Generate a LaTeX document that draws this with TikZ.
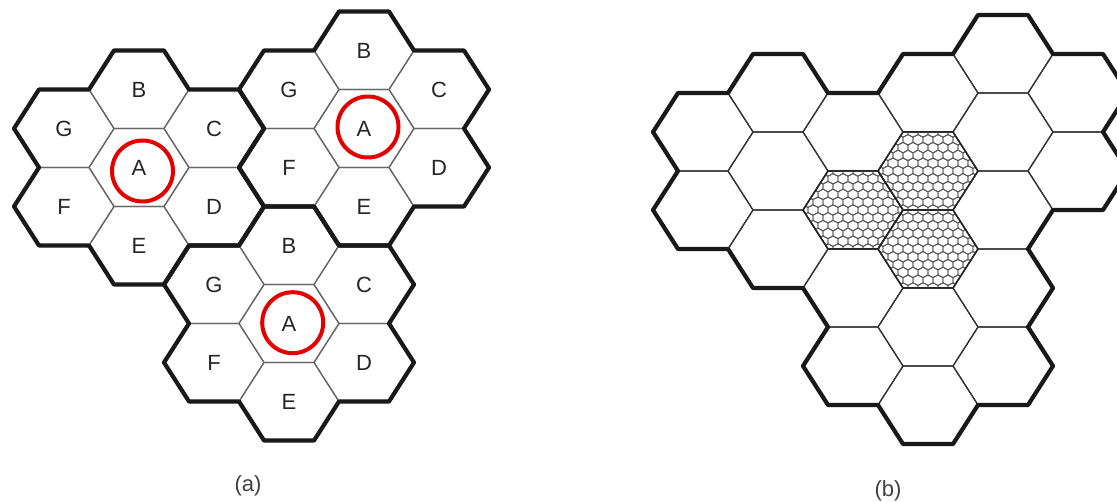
\documentclass[tikz,border=0pt]{standalone}
\usepackage{fontspec}
\setmainfont{Liberation Sans}
\begin{document}
\begin{tikzpicture}[x=1pt,y=-1pt,
  thinA/.style={line width=1.2pt, draw=black!60},
  thinB/.style={line width=1.2pt, draw=black!80},
  thickline/.style={line width=4.2pt, draw=black!90, line join=round},
  micro/.style={line width=0.9pt, draw=black!65},
  lbl/.style={font=\fontsize{22}{26}\selectfont, text=black!85, inner sep=0pt},
  ring/.style={circle, draw=red!90!black, line width=4pt, minimum size=61pt, inner sep=0pt},
  captxt/.style={font=\fontsize{22}{26}\selectfont, text=black!75, inner sep=0pt}]
\useasboundingbox (0,0) rectangle (1117,502);
\fill[white] (0,0) rectangle (1117,502);
\clip (0,0) rectangle (1117,502);

% ---------------- (a) ----------------
\begin{scope}[shift={(139,167.5)}]
  \foreach \cq/\cr/\nm in {0/0/L,3/-2/R,2/1/S}{
    \foreach \dq/\dr/\lab in {0/0/A,0/-1/B,1/-1/C,1/0/D,0/1/E,-1/1/F,-1/0/G}{
      \pgfmathsetmacro\cx{75*((\cq)+(\dq))}
      \pgfmathsetmacro\cy{78*((\cr)+(\dr)+((\cq)+(\dq))/2)}
      \draw[thinA, shift={(\cx,\cy)}] (50,0) -- (25,39) -- (-25,39) -- (-50,0) -- (-25,-39) -- (25,-39) -- cycle;
      \node[lbl] (a\nm\lab) at (\cx,\cy) {\lab};
    }
  }
  \foreach \cq/\cr in {0/0,3/-2,2/1}{
    \pgfmathsetmacro\cx{75*(\cq)}
    \pgfmathsetmacro\cy{78*((\cr)+(\cq)/2)}
    \draw[thickline, shift={(\cx,\cy)}] (-50,-78) -- (-25,-117) -- (25,-117) -- (50,-78) -- (100,-78) -- (125,-39) -- (100,0) -- (125,39) -- (100,78) -- (50,78) -- (25,117) -- (-25,117) -- (-50,78) -- (-100,78) -- (-125,39) -- (-100,0) -- (-125,-39) -- (-100,-78) -- cycle;
  }
  \node[ring] (ringL) at (3.5,3.5) {};
  \node[ring] (ringR) at (229,-40.5) {};
  \node[ring] (ringS) at (153.7,155.2) {};
\end{scope}
\node[captxt] (capa) at (248,486) {(a)};

% ---------------- (b) ----------------
\begin{scope}[shift={(778,171)}]
  \foreach \cq/\cr in {0/0,3/-2,2/1}{
    \foreach \dq/\dr in {0/0,0/-1,1/-1,1/0,0/1,-1/1,-1/0}{
      \pgfmathsetmacro\cx{75*((\cq)+(\dq))}
      \pgfmathsetmacro\cy{78*((\cr)+(\dr)+((\cq)+(\dq))/2)}
      \draw[thinB, shift={(\cx,\cy)}] (50,0) -- (25,39) -- (-25,39) -- (-50,0) -- (-25,-39) -- (25,-39) -- cycle;
    }
  }
  % microcells
  \foreach \hx/\hy in {75/39,150/0,150/78}{
    \begin{scope}
      \clip[shift={(\hx,\hy)}] (50,0) -- (25,39) -- (-25,39) -- (-50,0) -- (-25,-39) -- (25,-39) -- cycle;
      \foreach \j in {-6,...,6}{
        \foreach \i in {-6,...,6}{
          \pgfmathsetmacro\px{\hx+10*\i+5*mod(abs(\j),2)}
          \pgfmathsetmacro\py{\hy+7.8*\j}
          \draw[micro] (\px,\py) ++(0,-5.2) -- ++(5,2.6) -- ++(0,5.2) -- ++(-5,2.6) -- ++(-5,-2.6) -- ++(0,-5.2) -- cycle;
        }
      }
    \end{scope}
    \draw[line width=1.5pt, draw=black!85, shift={(\hx,\hy)}] (50,0) -- (25,39) -- (-25,39) -- (-50,0) -- (-25,-39) -- (25,-39) -- cycle;
  }
  \draw[thickline] (-50,-78) -- (-25,-117) -- (25,-117) -- (50,-78) -- (100,-78) -- (125,-117) -- (175,-117) -- (200,-156) -- (250,-156) -- (275,-117) -- (325,-117) -- (350,-78) -- (325,-39) -- (350,0) -- (325,39) -- (275,39) -- (250,78) -- (275,117) -- (250,156) -- (275,195) -- (250,234) -- (200,234) -- (175,273) -- (125,273) -- (100,234) -- (50,234) -- (25,195) -- (50,156) -- (25,117) -- (-25,117) -- (-50,78) -- (-100,78) -- (-125,39) -- (-100,0) -- (-125,-39) -- (-100,-78) -- cycle;
\end{scope}
\node[captxt] (capb) at (888,491) {(b)};
\end{tikzpicture}
\end{document}
